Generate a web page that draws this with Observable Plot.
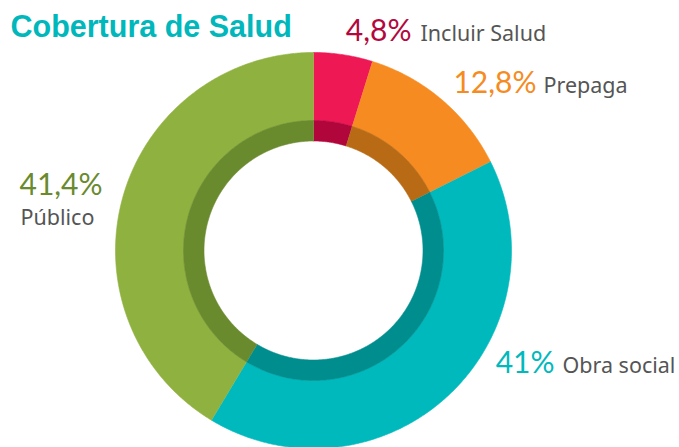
<!DOCTYPE html>
<html>
<head>
<meta charset="utf-8">
<script src="https://cdn.jsdelivr.net/npm/d3@7"></script>
<script src="https://cdn.jsdelivr.net/npm/@observablehq/plot@0.6"></script>
<style>
  html, body { margin: 0; padding: 0; background: #ffffff; }
  #chart svg { display: block; }
</style>
</head>
<body>
<div id="chart"></div>
<script>
// ---- data ----
const categories = ["Incluir Salud", "Prepaga", "Obra social", "Público"];
const values = [4.8, 12.8, 41, 41.4];
const pctLabels = ["4,8%", "12,8%", "41%", "41,4%"];
const title = "Cobertura de Salud";

// ---- styles ----
const outerColors = ["#ee1854", "#f68b22", "#00b9bd", "#8fb13f"];
const innerColors = ["#b0063b", "#b86a15", "#008d8d", "#6a8a2e"];
const labelColors = ["#b2083e", "#f68b22", "#00b9bd", "#6a8a2e"];
const nameColor = "#555555";

// ---- layout (pixels) ----
const W = 679, H = 447;
const cx = 313, cy = 250;
const rOuter = 198, rMid = 130, rInner = 109.5;
const labelLayout = [
  {px: 411, py: 40, nx: 420, ny: 40, stacked: false},
  {px: 536, py: 92, nx: 543, ny: 92, stacked: false},
  {px: 554, py: 372, nx: 562, ny: 372, stacked: false},
  {px: 19, py: 194, nx: 20, ny: 224, stacked: true}
];

const arcs = d3.pie().sort(null).value(d => d)(values);

function ringPolygon(a0, a1, r0, r1, key, color) {
  const n = Math.max(4, Math.ceil((a1 - a0) / (Math.PI / 360)));
  const pts = [];
  for (let i = 0; i <= n; i++) {
    const a = a0 + (a1 - a0) * i / n;
    pts.push({x: cx + r1 * Math.sin(a), y: cy - r1 * Math.cos(a), key, color});
  }
  for (let i = n; i >= 0; i--) {
    const a = a0 + (a1 - a0) * i / n;
    pts.push({x: cx + r0 * Math.sin(a), y: cy - r0 * Math.cos(a), key, color});
  }
  return pts;
}

const polys = [];
arcs.forEach((a, i) => {
  polys.push(...ringPolygon(a.startAngle, a.endAngle, rMid, rOuter, categories[i] + "-outer", outerColors[i]));
  polys.push(...ringPolygon(a.startAngle, a.endAngle, rInner, rMid, categories[i] + "-inner", innerColors[i]));
});

const labels = categories.map((c, i) => ({
  name: c, pct: pctLabels[i], color: labelColors[i], ...labelLayout[i]
}));
const inline = labels.filter(d => !d.stacked);
const stacked = labels.filter(d => d.stacked);

const fontPct = "Lato, 'Open Sans', sans-serif";
const fontName = "'Noto Sans', 'Open Sans', sans-serif";

const chart = Plot.plot({
  width: W,
  height: H,
  margin: 0,
  x: {domain: [0, W], range: [0, W], axis: null},
  y: {domain: [0, H], range: [0, H], axis: null},
  color: {type: "identity"},
  marks: [
    Plot.line(polys, {x: "x", y: "y", z: "key", fill: "color", stroke: "color", strokeWidth: 0.6, curve: "linear"}),
    Plot.text([title], {
      x: () => 10, y: () => 36, text: d => d, textAnchor: "start", lineAnchor: "bottom",
      fill: "#00b7bb", fontSize: 30.5, fontWeight: "bold", fontFamily: "'Liberation Sans', Arial, sans-serif"
    }),
    Plot.text(inline, {
      x: "px", y: "py", text: "pct", fill: "color", textAnchor: "end",
      lineAnchor: "bottom", fontSize: 30, fontFamily: fontPct, fontWeight: 400
    }),
    Plot.text(stacked, {
      x: "px", y: "py", text: "pct", fill: "color", textAnchor: "start",
      lineAnchor: "bottom", fontSize: 30, fontFamily: fontPct, fontWeight: 400
    }),
    Plot.text(labels, {
      x: "nx", y: "ny", text: "name", fill: nameColor, textAnchor: "start",
      lineAnchor: "bottom", fontSize: 21.5, fontFamily: fontName
    })
  ]
});

document.getElementById("chart").appendChild(chart);
</script>
</body>
</html>
